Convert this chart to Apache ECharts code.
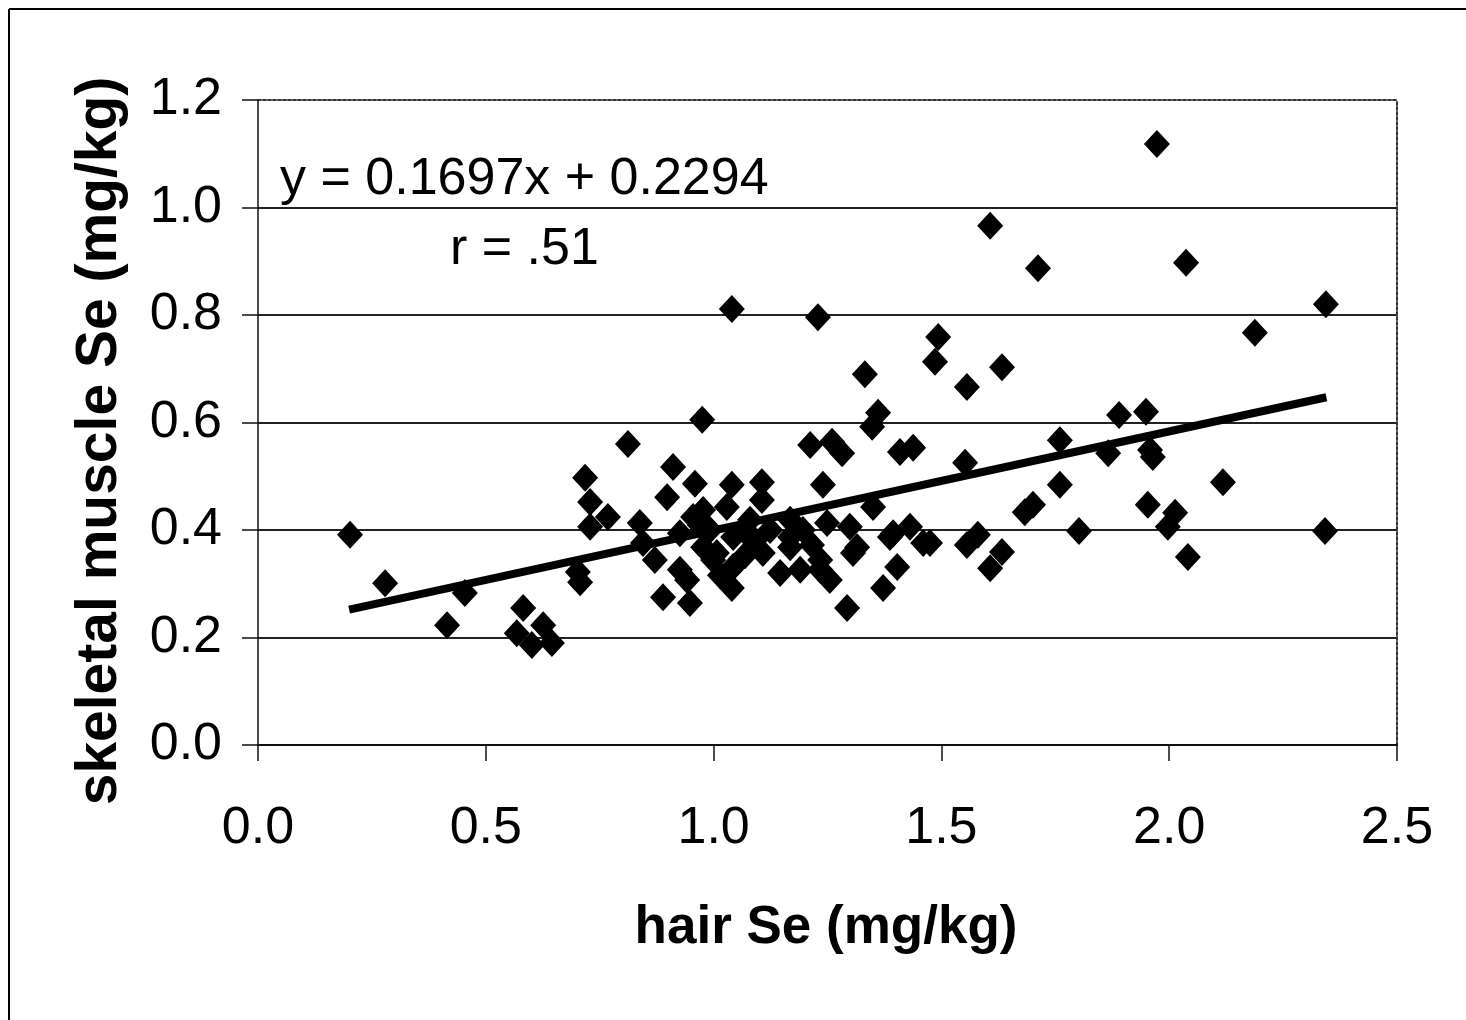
<!DOCTYPE html>
<html><head><meta charset="utf-8">
<script src="https://cdn.jsdelivr.net/npm/echarts@6/dist/echarts.min.js"></script>
<style>html,body{margin:0;padding:0;background:#fff}#c{width:1466px;height:1020px}</style>
</head><body><div id="c"></div>
<script>
const hairSe = [0.202,0.279,0.415,0.454,0.582,0.568,0.601,0.626,0.645,0.702,0.707,0.718,0.729,0.729,0.768,0.812,0.838,0.845,0.871,0.889,0.898,0.911,0.926,0.948,0.959,0.975,0.926,0.970,0.977,1.029,1.040,1.106,1.007,1.043,1.043,1.040,0.999,1.106,0.955,1.108,1.146,1.168,0.942,0.977,1.065,1.190,1.069,1.014,0.992,1.080,1.091,1.124,1.216,1.040,1.229,1.332,1.361,1.348,1.212,1.260,1.282,1.409,1.438,1.240,1.350,1.293,1.372,1.403,1.387,1.431,1.460,1.315,1.299,1.249,1.255,1.234,1.196,1.168,1.168,1.234,1.306,1.394,1.973,1.607,1.712,2.037,2.344,2.188,1.493,1.486,1.556,1.633,1.890,1.949,1.760,1.866,1.958,1.964,1.552,1.760,2.118,1.683,1.701,1.953,2.013,1.997,1.802,2.342,2.041,1.475,1.556,1.580,1.633,1.607];
const muscleSe = [0.391,0.301,0.223,0.283,0.255,0.208,0.186,0.223,0.190,0.322,0.303,0.497,0.452,0.406,0.424,0.560,0.413,0.376,0.344,0.275,0.461,0.517,0.326,0.264,0.486,0.605,0.394,0.409,0.437,0.443,0.484,0.489,0.357,0.331,0.387,0.292,0.344,0.456,0.424,0.357,0.320,0.387,0.307,0.368,0.400,0.326,0.353,0.316,0.400,0.419,0.381,0.400,0.372,0.811,0.796,0.690,0.618,0.592,0.558,0.564,0.543,0.545,0.553,0.484,0.443,0.255,0.292,0.331,0.387,0.406,0.376,0.368,0.406,0.413,0.307,0.326,0.400,0.419,0.368,0.344,0.357,0.394,1.118,0.966,0.887,0.897,0.820,0.767,0.759,0.713,0.666,0.703,0.614,0.620,0.567,0.543,0.549,0.536,0.525,0.484,0.489,0.433,0.447,0.447,0.432,0.406,0.398,0.398,0.350,0.376,0.372,0.391,0.359,0.329];
const trendX = [0.2, 2.345];
const trendY = [0.252, 0.647];
const xTickLabels = ['0.0','0.5','1.0','1.5','2.0','2.5'];
const yTickLabels = ['0.0','0.2','0.4','0.6','0.8','1.0','1.2'];
const xTitle = 'hair Se (mg/kg)';
const yTitle = 'skeletal muscle Se (mg/kg)';
const equationText = 'y = 0.1697x + 0.2294';
const rText = 'r = .51';

const chart = echarts.init(document.getElementById('c'), null, {renderer:'canvas'});
const FONT = '"Liberation Sans", Arial, sans-serif';
const points = hairSe.map((x, i) => [x, muscleSe[i]]);
const trend = trendX.map((x, i) => [x, trendY[i]]);

chart.setOption({
  animation: false,
  backgroundColor: '#fff',
  grid: {left: 258, top: 100, right: 69, bottom: 275, containLabel: false},
  xAxis: [{
    type: 'value', min: 0, max: 2.5, interval: 0.5,
    axisLine: {show: true, onZero: false, lineStyle: {color: '#111', width: 2}},
    axisTick: {show: true, inside: false, length: 16, lineStyle: {color: '#111', width: 1.5}},
    axisLabel: {margin: 58, fontFamily: FONT, fontSize: 52, color: '#000',
      formatter: v => xTickLabels[Math.round(v / 0.5)]},
    splitLine: {show: false}
  }, {
    type: 'value', min: 0, max: 2.5, position: 'top',
    axisLine: {show: true, onZero: false, lineStyle: {color: '#333', width: 2, type: [3, 2]}},
    axisTick: {show: false}, axisLabel: {show: false}, splitLine: {show: false}
  }],
  yAxis: [{
    type: 'value', min: 0, max: 1.2, interval: 0.2,
    axisLine: {show: true, onZero: false, lineStyle: {color: '#111', width: 1.5}},
    axisTick: {show: true, inside: false, length: 16, lineStyle: {color: '#111', width: 1.5}},
    axisLabel: {margin: 36, fontFamily: FONT, fontSize: 52, color: '#000',
      formatter: v => yTickLabels[Math.round(v / 0.2)]},
    splitLine: {show: true, showMaxLine: false, lineStyle: {color: '#222', width: 2}}
  }, {
    type: 'value', min: 0, max: 1.2, position: 'right',
    axisLine: {show: true, onZero: false, lineStyle: {color: '#333', width: 2, type: [3, 2]}},
    axisTick: {show: false}, axisLabel: {show: false}, splitLine: {show: false}
  }],
  series: [{
    type: 'line', data: trend, symbol: 'none', z: 3,
    lineStyle: {color: '#000', width: 8, cap: 'butt'}
  }, {
    type: 'scatter', data: points, symbol: 'diamond', symbolSize: [26, 28], z: 4,
    itemStyle: {color: '#000', opacity: 1}
  }],
  graphic: [
    {type: 'line', shape: {x1: 9, y1: 9, x2: 1466, y2: 9}, style: {stroke: '#000', lineWidth: 2}},
    {type: 'line', shape: {x1: 9, y1: 9, x2: 9, y2: 1020}, style: {stroke: '#000', lineWidth: 2}},
    {type: 'text', x: 280, y: 180, style: {text: equationText, font: '52px ' + FONT, fill: '#000', textAlign: 'left', textVerticalAlign: 'middle'}},
    {type: 'text', x: 450, y: 250, style: {text: rText, font: '52px ' + FONT, fill: '#000', textAlign: 'left', textVerticalAlign: 'middle'}},
    {type: 'text', x: 826, y: 928, style: {text: xTitle, font: 'bold 53px ' + FONT, fill: '#000', textAlign: 'center', textVerticalAlign: 'middle'}},
    {type: 'text', x: 100, y: 441, rotation: Math.PI / 2, style: {text: yTitle, font: 'bold 57px ' + FONT, fill: '#000', textAlign: 'center', textVerticalAlign: 'middle'}}
  ]
});
</script></body></html>
